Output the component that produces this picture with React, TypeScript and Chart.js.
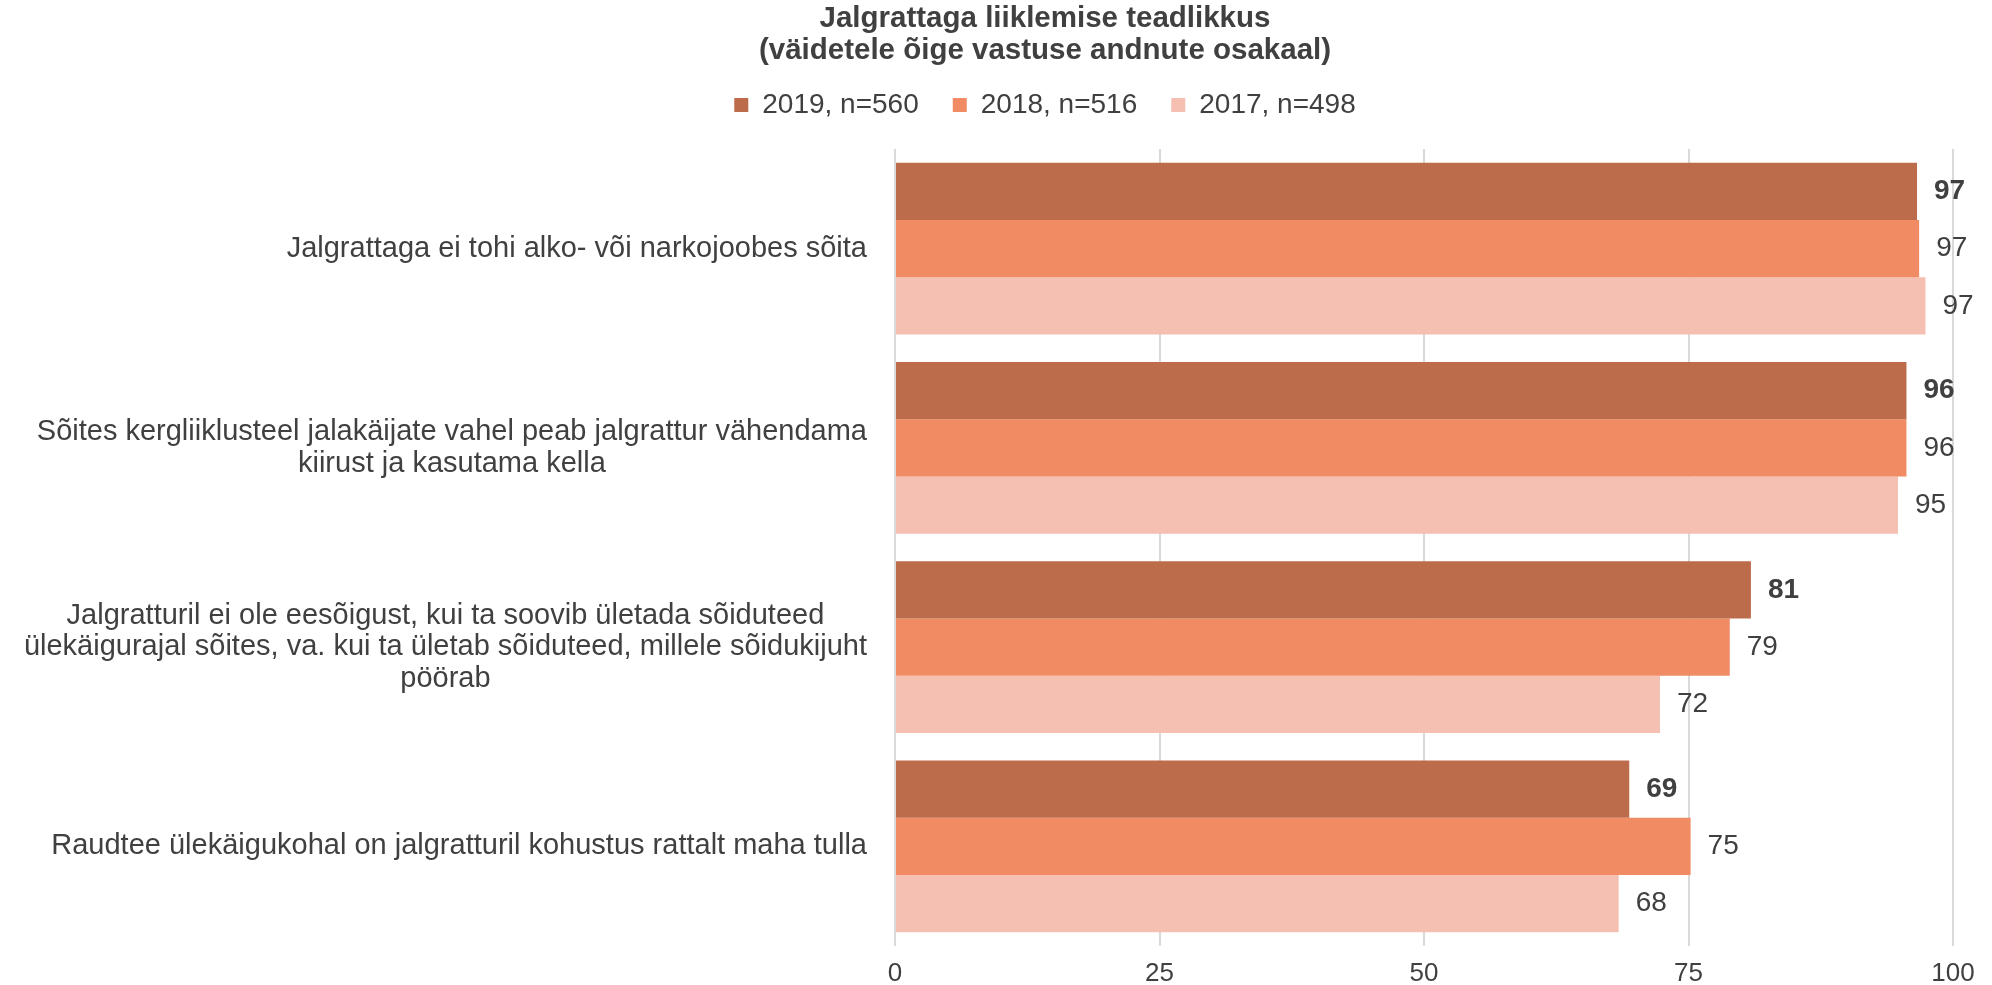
import React, { useEffect, useRef } from "react";
import { Chart, registerables } from "chart.js";

Chart.register(...registerables);

const titleLines = ["Jalgrattaga liiklemise teadlikkus", "(väidetele õige vastuse andnute osakaal)"];

const categories: string[][] = [
  ["Jalgrattaga ei tohi alko- või narkojoobes sõita"],
  ["Sõites kergliiklusteel jalakäijate vahel peab jalgrattur vähendama", "kiirust ja kasutama kella"],
  [
    "Jalgratturil ei ole eesõigust, kui ta soovib ületada sõiduteed",
    "ülekäigurajal sõites, va. kui ta ületab sõiduteed, millele sõidukijuht",
    "pöörab",
  ],
  ["Raudtee ülekäigukohal on jalgratturil kohustus rattalt maha tulla"],
];

const seriesNames = ["2019, n=560", "2018, n=516", "2017, n=498"];
const values2019 = [96.6, 95.6, 80.9, 69.4];
const values2018 = [96.8, 95.6, 78.9, 75.2];
const values2017 = [97.4, 94.8, 72.3, 68.4];
const seriesColors = ["#BC6C4A", "#F08B63", "#F5BFB1"];
const boldSeries = [true, false, false];

const xTicks = [0, 25, 50, 75, 100];

const TEXT = "#404040";
const FONT = "'Liberation Sans', Arial, sans-serif";

const yLabelPlugin = {
  id: "yLabels",
  afterDraw(chart: any) {
    const { ctx, chartArea } = chart;
    const yScale = chart.scales.y;
    ctx.save();
    ctx.font = `29px ${FONT}`;
    ctx.fillStyle = TEXT;
    ctx.textAlign = "center";
    ctx.textBaseline = "middle";
    const lineH = 31.5;
    const right = chartArea.left - 28;
    categories.forEach((lines, i) => {
      const w = Math.max(...lines.map((l) => ctx.measureText(l).width));
      const cx = right - w / 2;
      const cy = yScale.getPixelForValue(i);
      const start = cy - ((lines.length - 1) * lineH) / 2;
      lines.forEach((l, j) => ctx.fillText(l, cx, start + j * lineH));
    });
    ctx.restore();
  },
};

const valueLabelPlugin = {
  id: "valueLabels",
  afterDatasetsDraw(chart: any) {
    const { ctx } = chart;
    ctx.save();
    ctx.fillStyle = TEXT;
    ctx.textAlign = "left";
    ctx.textBaseline = "middle";
    chart.data.datasets.forEach((ds: any, di: number) => {
      const meta = chart.getDatasetMeta(di);
      ctx.font = `${boldSeries[di] ? "bold " : ""}28px ${FONT}`;
      meta.data.forEach((el: any, i: number) => {
        const v = ds.data[i] as number;
        ctx.fillText(String(Math.round(v)), el.x + 17, el.y);
      });
    });
    ctx.restore();
  },
};

export default function App() {
  const ref = useRef<HTMLCanvasElement>(null);
  useEffect(() => {
    if (!ref.current) return;
    Chart.defaults.font.family = FONT;
    Chart.defaults.color = TEXT;
    const chart = new Chart(ref.current, {
      type: "bar",
      data: {
        labels: categories.map((c) => c.join(" ")),
        datasets: [values2019, values2018, values2017].map((d, i) => ({
          label: seriesNames[i],
          data: d,
          backgroundColor: seriesColors[i],
          borderWidth: 0,
          categoryPercentage: 0.863,
          barPercentage: 1.0,
        })),
      },
      options: {
        indexAxis: "y",
        animation: false,
        responsive: false,
        maintainAspectRatio: false,
        layout: { padding: { left: 137, right: 39, top: 0, bottom: 0 } },
        plugins: {
          tooltip: { enabled: false },
          title: {
            display: true,
            text: titleLines,
            color: TEXT,
            font: { size: 29.5, weight: "bold", lineHeight: 1.085 },
            padding: { top: 3, bottom: -10 },
          },
          legend: {
            display: true,
            position: "top",
            labels: {
              color: TEXT,
              font: { size: 28 },
              boxWidth: 14,
              boxHeight: 14,
              padding: 34,
            },
          },
        },
        scales: {
          x: {
            min: 0,
            max: 100,
            afterBuildTicks(scale: any) {
              scale.ticks = xTicks.map((v) => ({ value: v }));
            },
            afterFit(scale: any) {
              scale.height = 39;
            },
            grid: { color: "#D9D9D9", lineWidth: 2, drawTicks: false },
            border: { display: false },
            ticks: { color: TEXT, font: { size: 26, lineHeight: 1.1 }, padding: 14 },
          },
          x2: {
            type: "linear",
            position: "top",
            display: true,
            grid: { display: false, drawTicks: false },
            border: { display: false },
            ticks: { display: false },
            afterFit(scale: any) {
              scale.height = 20;
            },
          },
          y: {
            type: "category",
            offset: true,
            grid: { display: false, drawTicks: false },
            border: { display: false },
            ticks: { display: false },
            afterFit(scale: any) {
              scale.width = 895 - 137;
            },
          },
        },
      } as any,
      plugins: [yLabelPlugin, valueLabelPlugin],
    });
    return () => chart.destroy();
  }, []);
  return (
    <div style={{ position: "fixed", left: 0, top: 0, width: 1992, height: 985, background: "#fff" }}>
      <canvas ref={ref} width={1992} height={985} style={{ width: 1992, height: 985, display: "block" }} />
    </div>
  );
}
